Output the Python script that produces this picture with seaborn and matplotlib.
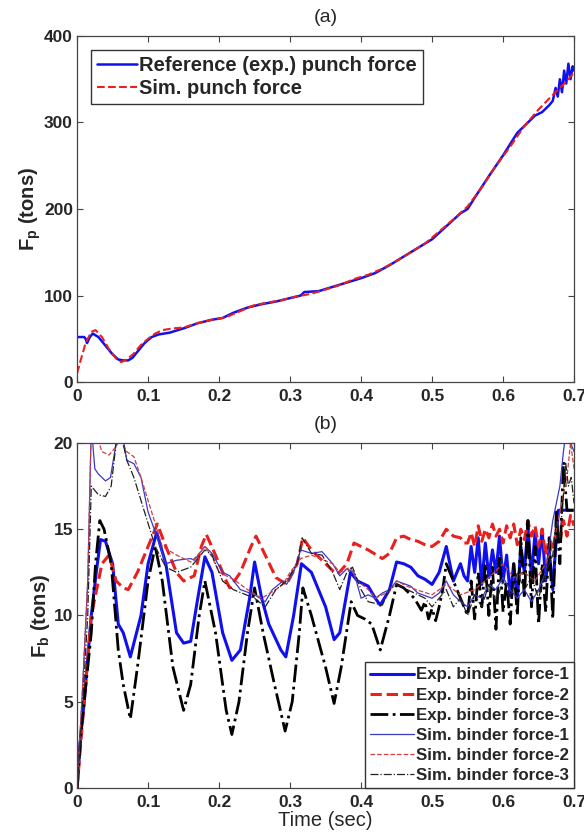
import numpy as np
import pandas as pd
import matplotlib
matplotlib.use("Agg")
import matplotlib.pyplot as plt
import seaborn as sns

sns.set_style("ticks")
plt.rcParams['font.family'] = ['Liberation Sans', 'DejaVu Sans']
plt.rcParams['mathtext.fontset'] = 'custom'
plt.rcParams['mathtext.rm'] = 'Liberation Sans'
plt.rcParams['mathtext.bf'] = 'Liberation Sans:bold'

# ---------------- panel (a) data ----------------
t_exp_p = [0, 0.010, 0.012, 0.014, 0.018, 0.022, 0.03, 0.04, 0.05, 0.058, 0.065, 0.072, 0.078,
           0.085, 0.095, 0.105, 0.115, 0.13, 0.15, 0.17, 0.19, 0.205, 0.22, 0.24, 0.26, 0.28,
           0.30, 0.315, 0.32, 0.34, 0.36, 0.38, 0.40, 0.42, 0.44, 0.46, 0.48, 0.50, 0.52, 0.54,
           0.55, 0.56, 0.58, 0.60, 0.62, 0.635, 0.645, 0.655, 0.665, 0.670, 0.674, 0.677, 0.680,
           0.683, 0.686, 0.689, 0.692, 0.695, 0.698, 0.700]
f_exp_p = [52, 52, 50, 45, 52, 56, 52, 42, 32, 26, 25, 25, 28,
           35, 45, 52, 55, 57, 62, 68, 72, 74, 80, 86, 90, 93,
           97, 100, 104, 105, 110, 115, 120, 126, 135, 145, 155, 165, 180, 195,
           200, 213, 238, 262, 288, 300, 308, 312, 320, 325, 340, 330, 350,
           335, 360, 345, 368, 350, 365, 360]

t_sim_p = [0, 0.005, 0.012, 0.02, 0.026, 0.035, 0.045, 0.055, 0.062, 0.07, 0.08, 0.09, 0.1,
           0.11, 0.12, 0.135, 0.15, 0.17, 0.19, 0.21, 0.23, 0.25, 0.27, 0.29, 0.31, 0.33, 0.35,
           0.37, 0.39, 0.41, 0.43, 0.45, 0.47, 0.49, 0.51, 0.53, 0.55, 0.57, 0.59, 0.61, 0.63,
           0.65, 0.67, 0.69, 0.70]
f_sim_p = [10, 25, 45, 58, 60, 52, 38, 27, 23, 26, 33, 43, 50,
           56, 60, 62, 63, 68, 72, 75, 82, 89, 92, 95, 99, 102, 107,
           112, 119, 124, 131, 140, 150, 160, 174, 188, 203, 225, 250, 272, 296,
           315, 332, 348, 358]

# ---------------- panel (b) data ----------------
t_exp1 = [0, 0.005, 0.01, 0.015, 0.02, 0.027, 0.033, 0.04, 0.05, 0.058, 0.065, 0.075, 0.09,
          0.1, 0.112, 0.125, 0.14, 0.15, 0.16, 0.17, 0.18, 0.19, 0.205, 0.218, 0.23, 0.243,
          0.25, 0.26, 0.27, 0.287, 0.294, 0.305, 0.316, 0.33, 0.35, 0.362, 0.37, 0.385, 0.395,
          0.41, 0.42, 0.427, 0.44, 0.45, 0.46, 0.47, 0.48, 0.49, 0.5, 0.51, 0.52, 0.53, 0.54,
          0.545,
          0.550, 0.555, 0.560, 0.565, 0.570, 0.575, 0.580, 0.585, 0.590, 0.595, 0.600, 0.605,
          0.610, 0.615, 0.620, 0.625, 0.630, 0.635, 0.640, 0.645, 0.650, 0.655, 0.660, 0.665,
          0.670, 0.675, 0.678, 0.685, 0.690, 0.695, 0.700]
f_exp1 = [0, 3, 5, 7.5, 10, 12.5, 14.4, 14.3, 13, 9.5, 9, 7.6, 10,
          13, 14.8, 13, 9, 8.4, 8.5, 11, 13.4, 12.5, 9, 7.4, 8, 11,
          13.1, 11, 9.5, 8, 7.6, 10, 13, 12.5, 10.5, 8.6, 9, 12.5, 12,
          11.7, 11, 10.6, 11.5, 13.1, 13.0, 12.8, 12.3, 12.1, 11.8, 12.5, 14, 12, 13,
          12.3,
          12.0, 14.0, 12.5, 14.5, 11.8, 14.2, 12.2, 13.8, 12.5, 14.6, 12.0, 13.5,
          11.2, 13.0, 10.8, 14.0, 12.5, 15.2, 12.2, 14.8, 13.0, 15.0, 12.0, 13.8,
          11.5, 14.5, 16.1, 16.1, 16.1, 16.1, 16.1]

t_exp2 = [0, 0.01, 0.02, 0.035, 0.045, 0.055, 0.065, 0.072, 0.085, 0.1, 0.113, 0.125, 0.14,
          0.15, 0.165, 0.175, 0.182, 0.195, 0.21, 0.215, 0.23, 0.245, 0.252, 0.265, 0.28,
          0.295, 0.31, 0.318, 0.33, 0.345, 0.36, 0.367, 0.38, 0.39, 0.4, 0.41, 0.43, 0.44,
          0.45, 0.46, 0.47, 0.48, 0.49, 0.5, 0.51, 0.52, 0.53, 0.54, 0.545,
          0.550, 0.555, 0.560, 0.565, 0.570, 0.575, 0.580, 0.585, 0.590, 0.595, 0.600, 0.605,
          0.610, 0.615, 0.620, 0.625, 0.630, 0.635, 0.640, 0.645, 0.650, 0.655, 0.660, 0.665,
          0.670, 0.675, 0.680, 0.685, 0.690, 0.695, 0.700]
f_exp2 = [0, 5, 10, 13, 13.5, 12, 11.6, 11.5, 12.5, 14, 15.3, 14, 12.5,
          12, 12.3, 14, 14.7, 13.5, 12, 11.6, 12.5, 14, 14.6, 13.5, 12.2,
          11.8, 13, 14.5, 13.8, 13.2, 12.6, 12.4, 13, 14.2, 14, 13.8, 13.3, 13.6,
          14.5, 14.6, 14.4, 14.3, 14.1, 14.0, 14.3, 15, 14.6, 14.5, 14.2,
          14.2, 14.8, 14.0, 15.2, 14.3, 15.0, 14.5, 15.3, 14.6, 15.0, 14.2, 15.2,
          14.5, 15.3, 14.1, 15.0, 14.4, 15.5, 14.6, 15.2, 14.0, 15.0, 13.5, 14.5,
          13.8, 15.0, 14.2, 15.5, 14.6, 15.8, 15.2]

t_exp3 = [0, 0.005, 0.01, 0.02, 0.026, 0.032, 0.038, 0.048, 0.058, 0.065, 0.075, 0.085, 0.1,
          0.11, 0.12, 0.135, 0.15, 0.16, 0.172, 0.18, 0.195, 0.21, 0.218, 0.228, 0.24, 0.25,
          0.262, 0.278, 0.293, 0.303, 0.313, 0.318, 0.33, 0.35, 0.362, 0.372, 0.386, 0.395,
          0.405, 0.415, 0.427, 0.44, 0.45, 0.46, 0.475, 0.485, 0.49, 0.495, 0.5, 0.505, 0.51,
          0.515, 0.52, 0.53, 0.54, 0.545,
          0.550, 0.555, 0.560, 0.565, 0.570, 0.575, 0.580, 0.585, 0.590, 0.595, 0.600, 0.605,
          0.610, 0.615, 0.620, 0.625, 0.630, 0.635, 0.640, 0.645, 0.650, 0.655, 0.660, 0.665,
          0.670, 0.675, 0.680, 0.685, 0.690, 0.695, 0.700]
f_exp3 = [0, 3, 5, 9, 13, 15.5, 15, 13, 8, 6, 4, 7, 12,
          14, 12, 7, 4.5, 6, 10, 12, 9, 4.5, 3.1, 5, 9, 11.6,
          9, 6, 3.3, 5, 9, 11.6, 10, 7, 4.9, 7, 10.8, 10,
          9.8, 9.5, 8, 10, 11.8, 11.6, 11, 10.3, 10.8, 9.8, 10.4, 9.7, 10.5,
          11.5, 13, 12, 11, 10.5,
          10.0, 12.0, 9.8, 12.5, 10.5, 13.0, 10.0, 12.8, 9.2, 13.5, 10.2, 12.0,
          9.5, 13.0, 10.0, 14.5, 11.0, 15.5, 10.5, 14.0, 9.5, 13.0, 10.2, 14.5,
          9.8, 16.0, 13.0, 18.9, 16.1, 16.1, 16.1]

t_sim1 = [0, 0.008, 0.015, 0.02, 0.025, 0.03, 0.04, 0.047, 0.055, 0.062, 0.07, 0.08, 0.09,
          0.1, 0.113, 0.125, 0.14, 0.16, 0.165, 0.18, 0.19, 0.205, 0.215, 0.23, 0.25, 0.265,
          0.275, 0.29, 0.295, 0.305, 0.315, 0.33, 0.345, 0.36, 0.37, 0.38, 0.39, 0.4, 0.41,
          0.42, 0.43, 0.44, 0.45, 0.47, 0.48, 0.5, 0.51, 0.52, 0.53, 0.54, 0.55, 0.56, 0.57,
          0.58, 0.59, 0.6, 0.61, 0.62, 0.63, 0.64, 0.65, 0.66, 0.665, 0.67, 0.675, 0.68, 0.685,
          0.69, 0.695, 0.70]
f_sim1 = [0, 6, 12, 21, 18.5, 18.2, 17.8, 18, 20, 21, 19, 18.8, 18,
          16, 14.5, 13, 13.2, 13.3, 13.2, 14, 13.6, 12.5, 12.3, 11.5, 11.2, 10.8,
          11.5, 12, 11.8, 12.5, 13.8, 13.6, 13.7, 13, 12.3, 12.7, 12.5, 11, 11.2,
          11, 11.3, 11.5, 12, 11.7, 11.3, 11.0, 11.3, 12.0, 11.2, 10.8, 10.5, 11.2, 11.0,
          11.8, 11.5, 12.2, 11.5, 11.0, 11.5, 10.8, 11.5, 12.5, 14, 15.5, 16.5, 17.5, 19.5,
          21, 20, 19.5]

t_sim2 = [0, 0.008, 0.015, 0.02, 0.027, 0.035, 0.045, 0.055, 0.06, 0.07, 0.08, 0.09, 0.105,
          0.12, 0.14, 0.16, 0.17, 0.18, 0.19, 0.2, 0.22, 0.24, 0.26, 0.28, 0.29, 0.3, 0.315,
          0.33, 0.36, 0.37, 0.385, 0.395, 0.41, 0.42, 0.44, 0.45, 0.47, 0.5, 0.52, 0.54, 0.56,
          0.58, 0.6, 0.615, 0.63, 0.645, 0.66, 0.67, 0.68, 0.69, 0.695, 0.70]
f_sim2 = [0, 6, 12, 21, 20.5, 19.5, 19.3, 19.8, 20.2, 19.5, 19.2, 18, 16,
          14, 13.5, 13.1, 13.5, 14, 13.4, 12.5, 12.1, 11.5, 11, 11.5, 11.8, 12.5, 13.3,
          13.5, 13, 12.5, 12.8, 12, 11.5, 11, 11.4, 12, 11.6, 11.2, 11.8, 11.2, 11.5,
          12.2, 13, 12.2, 12.5, 12.0, 13.0, 14, 16, 18, 20, 18.5]

t_sim3 = [0, 0.008, 0.015, 0.02, 0.03, 0.04, 0.048, 0.055, 0.062, 0.07, 0.08, 0.095, 0.11,
          0.125, 0.14, 0.16, 0.18, 0.19, 0.205, 0.22, 0.25, 0.265, 0.28, 0.295, 0.31, 0.317,
          0.33, 0.345, 0.36, 0.37, 0.38, 0.388, 0.4, 0.41, 0.43, 0.44, 0.45, 0.47, 0.49, 0.5,
          0.51, 0.52, 0.53, 0.54, 0.55, 0.56, 0.57, 0.58, 0.59, 0.6, 0.61, 0.62, 0.63, 0.64,
          0.65, 0.66, 0.67, 0.675, 0.68, 0.685, 0.688, 0.692, 0.696, 0.70]
f_sim3 = [0, 5, 10, 17.5, 17, 16.9, 17.5, 20, 20.5, 19, 18, 16, 14,
          12.8, 12.5, 12.8, 13.8, 13.5, 12, 11.5, 11, 10.5, 11.5, 12, 13, 14.5,
          13.6, 13.5, 12.5, 11.5, 12.5, 12.8, 11.5, 10.8, 10.6, 11.5, 11.8, 11.4, 11, 10.5,
          11, 11.5, 10.5, 11.0, 10.0, 11.2, 10.5, 11.8, 10.8, 12.0, 11.0, 12.5, 11.5, 12.2,
          11.0, 12.5, 13.5, 15.5, 14.5, 17, 18.9, 17.5, 18, 16.5]

x_ticks = [0, 0.1, 0.2, 0.3, 0.4, 0.5, 0.6, 0.7]
x_tick_labels = ['0', '0.1', '0.2', '0.3', '0.4', '0.5', '0.6', '0.7']
ya_ticks = [0, 100, 200, 300, 400]
yb_ticks = [0, 5, 10, 15, 20]

BLUE = '#1010ee'
RED = '#e8201e'
BLACK = '#000000'

fig = plt.figure(figsize=(5.84, 8.35), dpi=100)
ax1 = fig.add_axes([0.132, 0.5425, 0.851, 0.4144])
ax2 = fig.add_axes([0.132, 0.0563, 0.851, 0.4132])


def line(ax, x, y, **kw):
    sns.lineplot(x=x, y=y, ax=ax, estimator=None, sort=False, **kw)


line(ax1, t_exp_p, f_exp_p, color=BLUE, lw=1.8, label='Reference (exp.) punch force')
line(ax1, t_sim_p, f_sim_p, color=RED, lw=1.5, linestyle='--', label='Sim. punch force')

line(ax2, t_exp1, f_exp1, color=BLUE, lw=2.2, label='Exp. binder force-1')
line(ax2, t_exp2, f_exp2, color=RED, lw=2.2, linestyle='--', label='Exp. binder force-2')
line(ax2, t_exp3, f_exp3, color=BLACK, lw=2.0, linestyle='-.', label='Exp. binder force-3')
line(ax2, t_sim1, f_sim1, color='#3a3ac8', lw=0.9, label='Sim. binder force-1')
line(ax2, t_sim2, f_sim2, color='#d04040', lw=0.9, linestyle='--', label='Sim. binder force-2')
line(ax2, t_sim3, f_sim3, color='#222222', lw=0.9, linestyle='-.', label='Sim. binder force-3')

for ax, yt, ylim in ((ax1, ya_ticks, (0, 400)), (ax2, yb_ticks, (0, 20))):
    ax.set_xlim(0, 0.7)
    ax.set_ylim(*ylim)
    ax.set_xticks(x_ticks)
    ax.set_xticklabels(x_tick_labels)
    ax.set_yticks(yt)
    ax.set_yticklabels([str(v) for v in yt])
    ax.tick_params(direction='in', top=True, right=True, length=4, width=0.8,
                   color='#444444', labelsize=12.5)
    ax.tick_params(axis='x', pad=5)
    ax.tick_params(axis='y', pad=3)
    for lab in ax.get_xticklabels() + ax.get_yticklabels():
        lab.set_fontweight('bold')
    for sp in ax.spines.values():
        sp.set_color('#444444')
        sp.set_linewidth(0.9)

ax1.set_title('(a)', fontsize=14, pad=10)
ax2.set_title('(b)', fontsize=14, pad=10)
ax1.set_ylabel(r'$\mathbf{F_p}$ (tons)', fontsize=14.5, fontweight='bold', labelpad=1)
ax2.set_ylabel(r'$\mathbf{F_b}$ (tons)', fontsize=14.5, fontweight='bold', labelpad=1)
ax1.set_xlabel('')
ax2.set_xlabel('Time (sec)', fontsize=14.5, labelpad=1)

leg1 = ax1.legend(loc='upper left', prop={'weight': 'bold', 'size': 14.5}, frameon=True,
                  fancybox=False, edgecolor='#333333', framealpha=1, handlelength=2.0,
                  handletextpad=0.1, borderpad=0.3, labelspacing=0.2,
                  bbox_to_anchor=(0.008, 0.99))
leg1.get_frame().set_linewidth(1.0)
leg2 = ax2.legend(loc='lower right', prop={'weight': 'bold', 'size': 12.2}, frameon=True,
                  fancybox=False, edgecolor='#333333', framealpha=1, handlelength=2.6,
                  handletextpad=0.1, borderpad=0.3, labelspacing=0.3,
                  bbox_to_anchor=(1.0, 0.0), borderaxespad=0)
leg2.get_frame().set_linewidth(1.0)

fig.savefig('out.png', dpi=100)
